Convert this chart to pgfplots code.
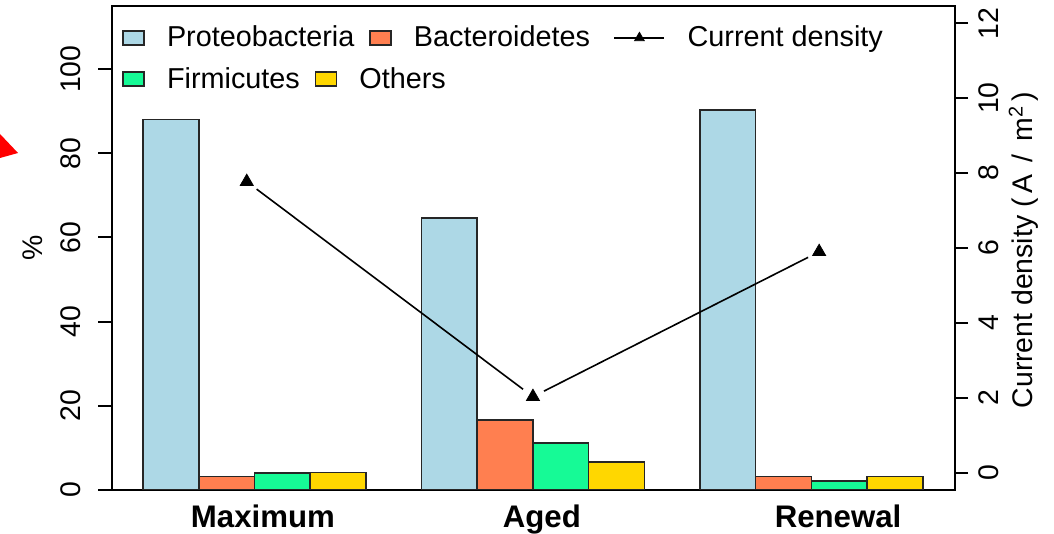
\documentclass[border=0pt]{standalone}
\usepackage{pgfplots}
\pgfplotsset{compat=1.18}
\usepackage{fontspec}
\setmainfont{Liberation Sans}
\definecolor{cProteo}{RGB}{173,216,230}
\definecolor{cBact}{RGB}{255,127,80}
\definecolor{cFirm}{RGB}{22,250,150}
\definecolor{cOther}{RGB}{255,215,0}
\newcommand{\fs}{\fontsize{14.2pt}{17pt}\selectfont}
\newcommand{\fl}{\fontsize{14.4pt}{17pt}\selectfont}
\newcommand{\fb}{\bfseries\fontsize{15.6pt}{18pt}\selectfont}

\begin{document}
\begin{tikzpicture}
% left axis: community composition (%)
\begin{axis}[
  at={(56pt,22pt)}, anchor=south west,
  scale only axis, width=421.5pt, height=242pt,
  xmin=-2.56, xmax=12.58, ymin=0, ymax=115,
  axis line style={line width=1pt},
  ytick={0,20,...,100}, ytick pos=left,
  xtick={0.15,5.16,10.48}, xticklabels={Maximum,Aged,Renewal}, xtick pos=bottom,
  major x tick style={draw=none},
  tick align=outside, major tick length=7pt,
  major y tick style={line width=1pt, black},
  xticklabel style={font=\fb, anchor=base, inner sep=0pt},
  xticklabel shift=11.5pt,
  yticklabel style={font=\fs, rotate=90, anchor=base, inner sep=0pt},
  yticklabel shift=9pt,
  /pgf/number format/assume math mode=true,
  every axis y label/.style={at={(axis description cs:-0.0830,0.5)}, anchor=base, rotate=90, font=\fs},
  ylabel={\%},
  legend columns=-1,
  legend cell align=left,
  legend style={draw=none, fill=none, inner sep=0pt, font=\fl,
    at={(axis description cs:0.0119,0.934)}, anchor=west,
    /tikz/every odd column/.style={column sep=9.2pt},
    /tikz/every even column/.style={column sep=5.5pt}},
]
\addplot[ybar, bar width=1, bar shift=-1.5, fill=cProteo, draw=black!85, line width=0.8pt,
  legend image code/.code={\draw[fill=cProteo, draw=black!85, line width=0.6pt] (0pt,-3.5pt) rectangle (10.5pt,3.5pt);}]
  coordinates {(0,88.0) (5,64.6) (10,90.3)};
\addlegendentry{Proteobacteria}
\addplot[ybar, bar width=1, bar shift=-0.5, fill=cBact, draw=black!85, line width=0.8pt,
  legend image code/.code={\draw[fill=cBact, draw=black!85, line width=0.6pt] (0pt,-3.5pt) rectangle (10.5pt,3.5pt);}]
  coordinates {(0,3.2) (5,16.6) (10,3.2)};
\addlegendentry{Bacteroidetes}
\addlegendimage{legend image code/.code={\path (-4.5pt,0pt); \draw[black, line width=0.8pt] (0pt,0pt) -- (25pt,0pt);
  \draw[black, mark=triangle*, mark size=2.8pt] plot coordinates {(12.5pt,0pt)};}}
\addlegendentry{Current density}
\addplot[ybar, bar width=1, bar shift=0.5, fill=cFirm, draw=black!85, line width=0.8pt, forget plot]
  coordinates {(0,4.1) (5,11.1) (10,2.2)};
\addplot[ybar, bar width=1, bar shift=1.5, fill=cOther, draw=black!85, line width=0.8pt, forget plot]
  coordinates {(0,4.2) (5,6.7) (10,3.2)};
\end{axis}
% right axis: current density
\begin{axis}[
  at={(56pt,22pt)}, anchor=south west,
  scale only axis, width=421.5pt, height=242pt,
  xmin=-2.56, xmax=12.58, ymin=-0.46, ymax=12.46,
  axis x line=none, axis y line*=right,
  axis line style={line width=1pt, -},
  ytick={0,2,...,12},
  tick align=outside, major tick length=6.5pt,
  major y tick style={line width=1pt, black},
  yticklabel style={font=\fs, rotate=90, anchor=north, inner sep=0pt},
  yticklabel shift=5.2pt,
  /pgf/number format/assume math mode=true,
  every axis y label/.style={at={(axis description cs:1.0925,0.496)}, anchor=base, rotate=90, font=\fs},
  ylabel={Current density (\,A \,/\, m\textsuperscript{2}\,)},
  legend columns=-1,
  legend cell align=left,
  legend style={draw=none, fill=none, inner sep=0pt, font=\fl,
    at={(axis description cs:0.0119,0.849)}, anchor=west,
    /tikz/every odd column/.style={column sep=9.2pt},
    /tikz/every even column/.style={column sep=5.5pt}},
]
\addlegendimage{legend image code/.code={\draw[fill=cFirm, draw=black!85, line width=0.6pt] (0pt,-3.5pt) rectangle (10.5pt,3.5pt);}}
\addlegendentry{Firmicutes}
\addlegendimage{legend image code/.code={\draw[fill=cOther, draw=black!85, line width=0.6pt] (0pt,-3.5pt) rectangle (10.5pt,3.5pt);}}
\addlegendentry{Others}
\addplot[black, line width=0.8pt, forget plot] coordinates {(-0.14,7.77) (5,2.03) (10.14,5.90)};
\addplot[only marks, mark=*, mark size=6pt, draw=white, fill=white, forget plot] coordinates {(-0.14,7.77) (5,2.03) (10.14,5.90)};
\addplot[only marks, mark=triangle*, mark size=3.75pt, black, forget plot] coordinates {(-0.14,7.77) (5,2.03) (10.14,5.90)};
\end{axis}
\fill[red] (0pt,200pt) -- (9pt,190.5pt) -- (0pt,188pt) -- cycle;
\pgfresetboundingbox
\path[use as bounding box] (0pt,0pt) rectangle (527pt,267pt);
\end{tikzpicture}
\end{document}
